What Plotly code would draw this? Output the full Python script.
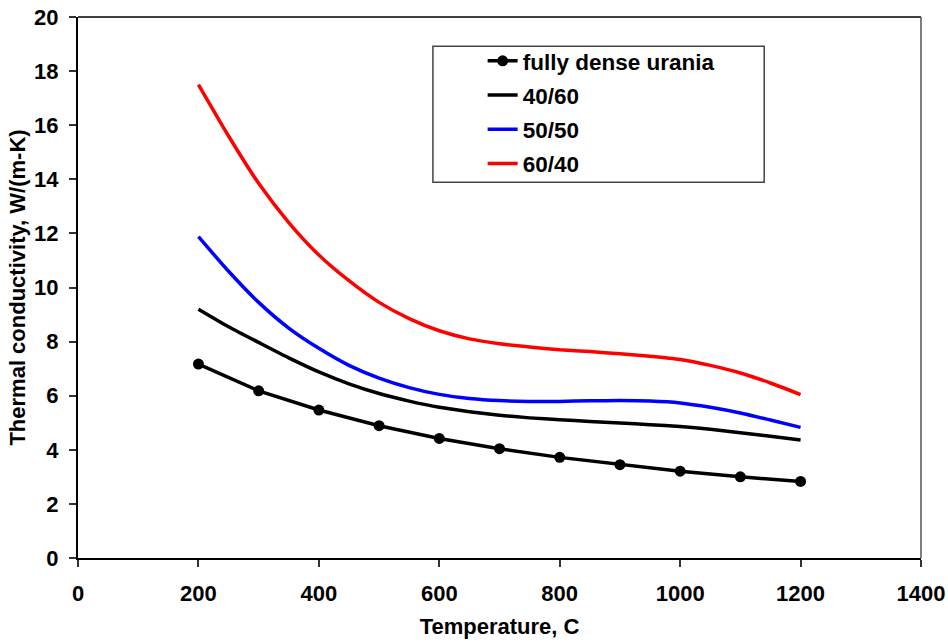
import plotly.graph_objects as go

temps = [200, 300, 400, 500, 600, 700, 800, 900, 1000, 1100, 1200]
urania = [7.17, 6.18, 5.47, 4.89, 4.42, 4.04, 3.72, 3.45, 3.21, 3.00, 2.83]

curve_temps = [200, 250, 300, 350, 400, 450, 500, 550, 600, 650, 700,
               750, 800, 850, 900, 950, 1000, 1050, 1100, 1150, 1200]
k_40_60 = [9.20, 8.55, 7.97, 7.40, 6.88, 6.44, 6.08, 5.80, 5.57, 5.41, 5.28,
           5.18, 5.11, 5.05, 4.99, 4.93, 4.86, 4.76, 4.63, 4.50, 4.36]
k_50_50 = [11.88, 10.60, 9.45, 8.50, 7.75, 7.12, 6.65, 6.30, 6.05, 5.90, 5.82,
           5.79, 5.79, 5.81, 5.82, 5.80, 5.73, 5.57, 5.36, 5.10, 4.83]
k_60_40 = [17.50, 15.60, 13.85, 12.40, 11.20, 10.25, 9.45, 8.85, 8.40, 8.10, 7.92,
           7.80, 7.70, 7.63, 7.55, 7.46, 7.34, 7.12, 6.84, 6.47, 6.04]

FONT = "Liberation Sans"

fig = go.Figure()
fig.add_trace(go.Scatter(x=temps, y=urania, name="<b>fully dense urania</b>",
                         mode="lines+markers", legendgroup="a",
                         line=dict(color="black", width=3.5),
                         marker=dict(color="black", size=11)))
fig.add_trace(go.Scatter(x=curve_temps, y=k_40_60, name="<b>40/60</b>", mode="lines",
                         legendgroup="b",
                         line=dict(color="black", width=3.5, shape="spline", smoothing=0.6)))
fig.add_trace(go.Scatter(x=curve_temps, y=k_50_50, name="<b>50/50</b>", mode="lines",
                         legendgroup="c",
                         line=dict(color="#0000FF", width=3.5, shape="spline", smoothing=0.6)))
fig.add_trace(go.Scatter(x=curve_temps, y=k_60_40, name="<b>60/40</b>", mode="lines",
                         legendgroup="d",
                         line=dict(color="#FF0000", width=3.5, shape="spline", smoothing=0.6)))

fig.update_layout(
    width=948, height=643,
    margin=dict(l=78, r=27, t=17, b=85),
    paper_bgcolor="white", plot_bgcolor="white",
    font=dict(family=FONT, color="black", size=22),
    showlegend=True,
    legend=dict(x=0.480, y=0.958, xanchor="left", yanchor="top",
                bgcolor="rgba(0,0,0,0)", borderwidth=0,
                font=dict(family=FONT, size=22.5, color="black"),
                itemwidth=30, tracegroupgap=2),
    shapes=[
        dict(type="rect", xref="paper", yref="paper", x0=0.421, x1=0.814,
             y0=0.6946, y1=0.946, line=dict(color="#444", width=1.5)),
        dict(type="line", xref="paper", yref="paper", x0=0, x1=1, y0=1, y1=1,
             line=dict(color="black", width=1.5)),
        dict(type="line", xref="paper", yref="paper", x0=1, x1=1, y0=0, y1=1,
             line=dict(color="#555", width=1.5)),
    ],
)
fig.update_xaxes(
    range=[0, 1400], tickvals=[0, 200, 400, 600, 800, 1000, 1200, 1400],
    showgrid=False, zeroline=False, automargin=False,
    showline=True, linecolor="black", linewidth=2,
    ticks="outside", ticklen=7, tickwidth=1.5, tickcolor="#333",
    ticklabelstandoff=8,
    tickfont=dict(family=FONT, size=22, weight="bold"),
    title=dict(text="<b>Temperature, C</b>", font=dict(family=FONT, size=22), standoff=13),
)
fig.update_yaxes(
    range=[0, 20], tickvals=list(range(0, 21, 2)),
    showgrid=False, zeroline=False, automargin=False,
    showline=True, linecolor="black", linewidth=2,
    ticks="outside", ticklen=7, tickwidth=1.5, tickcolor="#333",
    ticklabelstandoff=6,
    tickfont=dict(family=FONT, size=22, weight="bold"),
    title=dict(text="<b>Thermal conductivity, W/(m-K)</b>", font=dict(family=FONT, size=22), standoff=2),
)

fig.write_html("out.html", config={"displayModeBar": False},
               post_script="document.body.style.margin='0';document.body.style.overflow='hidden';")
